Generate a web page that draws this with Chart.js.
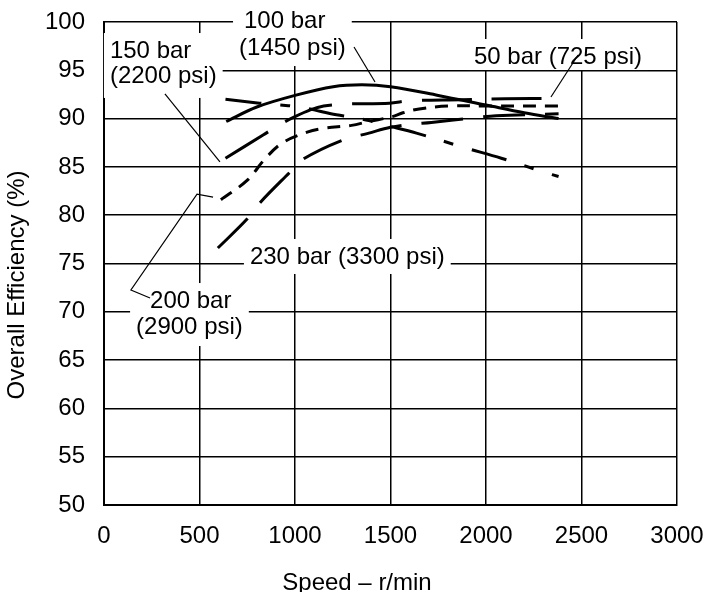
<!DOCTYPE html>
<html>
<head>
<meta charset="utf-8">
<script src="https://cdn.jsdelivr.net/npm/chart.js@4/dist/chart.umd.min.js"></script>
<style>
body{margin:0;background:#fff;}
#wrap{width:704px;height:592px;}
</style>
</head>
<body>
<div id="wrap"><canvas id="myChart" width="704" height="592"></canvas></div>
<script>
// values (speed in r/min, overall efficiency in %)
var speed100 = [640, 800, 1000, 1200, 1350, 1500, 1750, 2000, 2200, 2380];
var eff100   = [89.7, 91.2, 92.4, 93.3, 93.5, 93.3, 92.4, 91.4, 90.6, 90.0];

var speed50 = [636, 814, 900, 1027, 1100, 1188, 1312, 1387, 1457, 1636, 1887, 2080, 2313, 2380];
var eff50   = [92.0, 91.6, 91.45, 91.2, 90.9, 90.5, 90.1, 89.8, 89.4, 88.5, 87.0, 85.9, 84.4, 84.0];

var speed150 = [636, 833, 922, 1000, 1080, 1150, 1260, 1494, 1600, 1870, 2100, 2380];
var eff150   = [85.9, 88.3, 89.4, 90.2, 90.9, 91.3, 91.5, 91.6, 91.85, 91.95, 92.05, 92.1];

var speed200 = [612, 749, 846, 935, 1064, 1150, 1296, 1385, 1510, 1565, 1650, 1800, 2000, 2380];
var eff200   = [81.6, 83.6, 85.9, 87.5, 88.6, 89.0, 89.3, 89.7, 90.2, 90.6, 91.0, 91.3, 91.3, 91.3];

var speed230 = [596, 749, 817, 971, 1043, 1240, 1387, 1500, 1602, 1714, 1946, 2053, 2380];
var eff230   = [76.6, 79.6, 81.3, 84.4, 85.8, 87.7, 88.5, 89.1, 89.4, 89.6, 90.1, 90.3, 90.5];

var xTicks = [0, 500, 1000, 1500, 2000, 2500, 3000];
var yTicks = [50, 55, 60, 65, 70, 75, 80, 85, 90, 95, 100];

// curve labels, placed in data units (left edge, baseline)
var noteText = ['100 bar', '(1450 psi)', '150 bar', '(2200 psi)', '50 bar (725 psi)', '230 bar (3300 psi)', '200 bar', '(2900 psi)'];
var noteX    = [733, 707, 31, 31, 1937, 764, 241, 168];
var noteY    = [99.38, 96.58, 96.27, 93.69, 95.65, 74.95, 70.39, 67.7];
var noteGroups = [[0, 1], [2, 3], [4], [5], [6, 7]];
var notePadBottom = [5, 9, 0, 4, 6];

// leader lines, data units
var leaders = [
    [[1309, 97.41], [1419, 93.79]],
    [[319, 92.55], [607, 85.51]],
    [[2482, 96.58], [2340, 92.24]],
    [[571, 81.88], [487, 82.19], [141, 72.26], [241, 71.43]]
];

var FONT = '24px "Liberation Sans", Arial, sans-serif';

function pts(xs, ys){
    return xs.map(function(x, i){ return {x: x, y: ys[i]}; });
}

function series(label, xs, ys, dash){
    return {
        label: label,
        data: pts(xs, ys),
        borderColor: '#000',
        borderWidth: 3,
        borderDash: dash,
        pointRadius: 0,
        tension: 0.35,
        fill: false
    };
}

var notesPlugin = {
    id: 'notes',
    beforeDatasetsDraw: function(chart){
        var ctx = chart.ctx, xs = chart.scales.x, ys = chart.scales.y;
        ctx.save();
        ctx.font = FONT;
        // white boxes behind text
        noteGroups.forEach(function(g, n){
            var l = Infinity, r = -Infinity;
            g.forEach(function(i){
                var px = xs.getPixelForValue(noteX[i]);
                l = Math.min(l, px);
                r = Math.max(r, px + ctx.measureText(noteText[i]).width);
            });
            var top = ys.getPixelForValue(noteY[g[0]]) - 25;
            var bot = ys.getPixelForValue(noteY[g[g.length - 1]]) + 6 + notePadBottom[n];
            ctx.fillStyle = '#fff';
            ctx.fillRect(l - 6, top, r - l + 12, bot - top);
        });
        ctx.fillStyle = '#000';
        ctx.textAlign = 'left';
        ctx.textBaseline = 'alphabetic';
        noteText.forEach(function(t, i){
            ctx.fillText(t, xs.getPixelForValue(noteX[i]), ys.getPixelForValue(noteY[i]));
        });
        ctx.strokeStyle = '#000';
        ctx.lineWidth = 1.2;
        leaders.forEach(function(line){
            ctx.beginPath();
            line.forEach(function(p, k){
                var px = xs.getPixelForValue(p[0]), py = ys.getPixelForValue(p[1]);
                if (k === 0) ctx.moveTo(px, py); else ctx.lineTo(px, py);
            });
            ctx.stroke();
        });
        ctx.restore();
    },
    afterDraw: function(chart){
        var ctx = chart.ctx;
        ctx.save();
        ctx.font = FONT;
        ctx.fillStyle = '#000';
        ctx.textAlign = 'center';
        ctx.textBaseline = 'alphabetic';
        ctx.fillText('Speed \u2013 r/min', 357, 590);
        ctx.translate(24, 285);
        ctx.rotate(-Math.PI / 2);
        ctx.fillText('Overall Efficiency (%)', 0, 0);
        ctx.restore();
    }
};

var tickFont = {family: '"Liberation Sans", Arial, sans-serif', size: 24};
function plain(v){ return String(v); }
function noPad(s){ s.paddingTop = 0; s.paddingBottom = 0; s.paddingLeft = 0; s.paddingRight = 0; }

var ctx = document.getElementById('myChart').getContext('2d');
var myChart = new Chart(ctx, {
    type: 'line',
    data: {
        datasets: [
            series('100 bar (1450 psi)', speed100, eff100, []),
            series('50 bar (725 psi)', speed50, eff50, [36, 19, 10, 19]),
            series('150 bar (2200 psi)', speed150, eff150, [50, 20]),
            series('200 bar (2900 psi)', speed200, eff200, [13, 9]),
            series('230 bar (3300 psi)', speed230, eff230, [42, 20])
        ]
    },
    options: {
        responsive: false,
        animation: false,
        events: [],
        layout: {padding: {top: 22, right: 27, left: 0, bottom: 0}},
        plugins: {legend: {display: false}, tooltip: {enabled: false}},
        scales: {
            x: {
                type: 'linear',
                min: 0, max: 3000,
                afterBuildTicks: function(s){ s.ticks = xTicks.map(function(v){ return {value: v}; }); },
                afterFit: function(s){ s.height = 87; noPad(s); },
                grid: {color: '#000', lineWidth: 1.5, drawTicks: false},
                border: {color: '#000', width: 2},
                ticks: {color: '#000', font: tickFont, padding: 17, maxRotation: 0, autoSkip: false, callback: plain}
            },
            y: {
                type: 'linear',
                min: 50, max: 100,
                afterBuildTicks: function(s){ s.ticks = yTicks.map(function(v){ return {value: v}; }); },
                afterFit: function(s){ s.width = 104; noPad(s); },
                grid: {color: '#000', lineWidth: 1.5, drawTicks: false},
                border: {color: '#000', width: 2},
                ticks: {color: '#000', font: tickFont, padding: 19, autoSkip: false, callback: plain}
            }
        }
    },
    plugins: [notesPlugin]
});
</script>
</body>
</html>
